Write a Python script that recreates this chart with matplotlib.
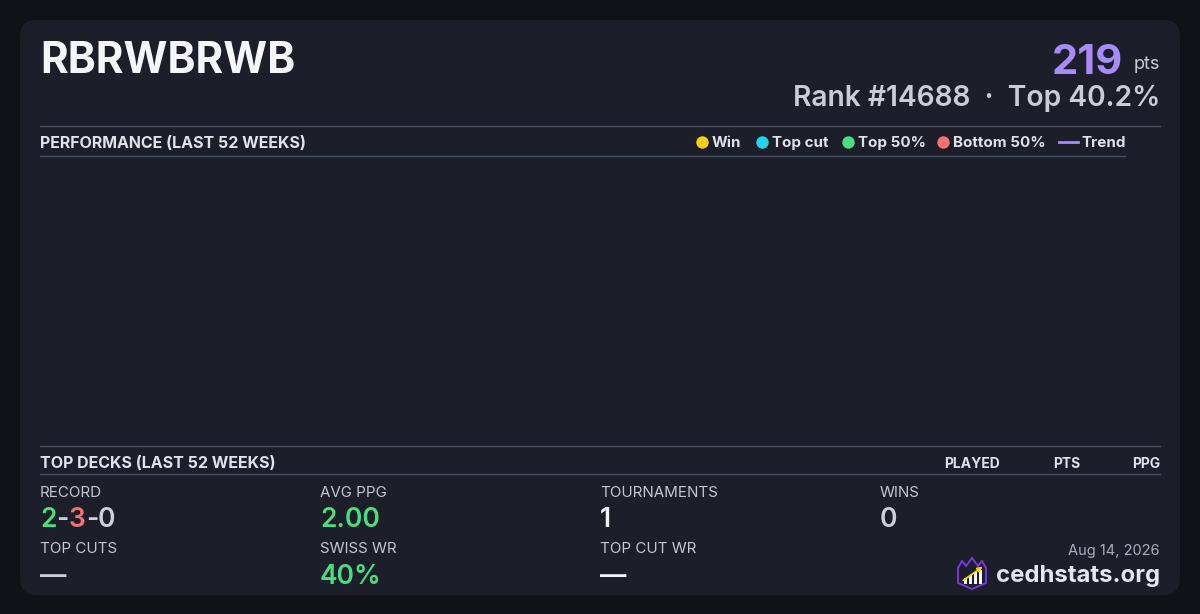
import matplotlib.pyplot as plt
from matplotlib.patches import FancyBboxPatch, Polygon, Rectangle

# Data
player_name = "RBRWBRWB"
points = 219
rank = 14688
top_pct = 40.2
snapshot_date = "Aug 14, 2026"

legend_labels = ["Win", "Top cut", "Top 50%", "Bottom 50%"]
legend_colors = ["#facc15", "#22d3ee", "#4ade80", "#f87171"]
trend_label = "Trend"
trend_color = "#a78bfa"

deck_columns = ["PLAYED", "PTS", "PPG"]

record = [2, 3, 0]  # wins - losses - draws
stat_labels_row1 = ["RECORD", "AVG PPG", "TOURNAMENTS", "WINS"]
stat_values_row1 = [None, "2.00", "1", "0"]
stat_colors_row1 = [None, "#4ade80", "#f5f6fa", "#cbd0da"]
stat_labels_row2 = ["TOP CUTS", "SWISS WR", "TOP CUT WR"]
stat_values_row2 = ["\u2014", "40%", "\u2014"]
stat_colors_row2 = ["#cbd0da", "#4ade80", "#f5f6fa"]

# Style
BG = "#111217"
CARD = "#1c1e29"
RULE = "#465066"
FONT = "Inter"
plt.rcParams["font.family"] = [FONT, "DejaVu Sans"]

fig = plt.figure(figsize=(12, 6.14), dpi=100, facecolor=BG)
ax = fig.add_axes([0, 0, 1, 1])
ax.set_xlim(0, 1200)
ax.set_ylim(614, 0)
ax.axis("off")
ax.set_facecolor(BG)

ax.add_patch(FancyBboxPatch((20, 20), 1160, 575, boxstyle="round,pad=0,rounding_size=17",
                            fc=CARD, ec="none"))

# Header
ax.text(40, 73, player_name, fontsize=30.5, weight="bold", color="#f5f6fa", va="baseline")
ax.text(1160, 69, "pts", fontsize=13, color="#c8ccd6", va="baseline", ha="right")
ax.text(1123, 74, str(points), fontsize=30, weight="bold", color=trend_color,
        va="baseline", ha="right")
ax.text(1160, 106, f"Rank #{rank}  \u00b7  Top {top_pct}%", fontsize=20.3, weight=600,
        color="#c8cdd8", va="baseline", ha="right")

# Performance section
ax.plot([40, 1160], [126, 126], color=RULE, lw=1)
ax.plot([40, 1125], [156, 156], color=RULE, lw=1)
ax.text(40, 148, "PERFORMANCE (LAST 52 WEEKS)", fontsize=11.5, weight="bold",
        color="#dfe3ea", va="baseline")

marker_x = [702, 762, 848, 943]
for mx, lab, col in zip(marker_x, legend_labels, legend_colors):
    ax.scatter([mx], [142], s=80, color=col, marker="o", lw=0, zorder=3)
    ax.text(mx + 10, 147, lab, fontsize=10.9, weight="bold", color="#dfe3ea", va="baseline")
ax.plot([1059, 1078], [142, 142], color=trend_color, lw=2)
ax.text(1082, 147, trend_label, fontsize=10.9, weight="bold", color="#dfe3ea", va="baseline")

# empty performance plot area
perf = fig.add_axes([40 / 1200, 1 - 446 / 614, 1085 / 1200, 290 / 614])
perf.axis("off")

# Top decks section
ax.plot([40, 1160], [446, 446], color=RULE, lw=1)
ax.plot([40, 1160], [474, 474], color=RULE, lw=1)
ax.text(40, 468, "TOP DECKS (LAST 52 WEEKS)", fontsize=11.5, weight="bold",
        color="#dfe3ea", va="baseline")
for cx, col in zip([1000, 1080, 1160], deck_columns):
    ax.text(cx, 468, col, fontsize=10, weight="bold", color="#dfe3ea",
            va="baseline", ha="right")

# Stats grid
col_x = [40, 320, 600, 880]
LABEL = "#c4c8d0"
for x, lab in zip(col_x, stat_labels_row1):
    ax.text(x, 497, lab, fontsize=10.9, color=LABEL, va="baseline")
for x, lab in zip(col_x, stat_labels_row2):
    ax.text(x, 553, lab, fontsize=10.9, color=LABEL, va="baseline")

for x, val, col in zip(col_x[1:], stat_values_row1[1:], stat_colors_row1[1:]):
    ax.text(x, 527, val, fontsize=19, weight=600, color=col, va="baseline")
for x, val, col in zip(col_x, stat_values_row2, stat_colors_row2):
    ax.text(x, 584, val, fontsize=19, weight=600, color=col, va="baseline")

# record "W-L-D" coloured piecewise
pieces = [(str(record[0]), "#4ade80"), ("-", "#cbd0da"), (str(record[1]), "#f87171"),
          ("-", "#cbd0da"), (str(record[2]), "#cbd0da")]
prev = ax.text(40, 527, pieces[0][0], fontsize=19, weight=600, color=pieces[0][1], va="baseline")
for txt, col in pieces[1:]:
    prev = ax.annotate(txt, xy=(1, 0), xycoords=prev, va="bottom", ha="left",
                       fontsize=19, weight=600, color=col)

# Footer
ax.text(1160, 555, snapshot_date, fontsize=10.5, color="#a9afbc", va="baseline", ha="right")
ax.text(1160, 582, "cedhstats.org", fontsize=17.2, weight="bold", color="#e4e7ee",
        va="baseline", ha="right")

# logo: shield with bars and arrow
shield = [(958, 568), (962, 561), (966, 566), (972, 558), (978, 566), (982, 561), (986, 568),
          (986, 583), (972, 589), (958, 583)]
ax.add_patch(Polygon(shield, closed=True, fc="none", ec="#7c3aed", lw=1.3))
for bx, bh in zip([964, 969, 974, 979], [6, 9, 12, 14]):
    ax.add_patch(Rectangle((bx, 584 - bh), 3, bh, fc="#f5f6fa", ec="none"))
ax.annotate("", xy=(985, 565), xytext=(961, 582),
            arrowprops=dict(arrowstyle="-|>", color="#facc15", lw=1.3, mutation_scale=7))

fig.savefig("out.png", dpi=100, facecolor=BG)
